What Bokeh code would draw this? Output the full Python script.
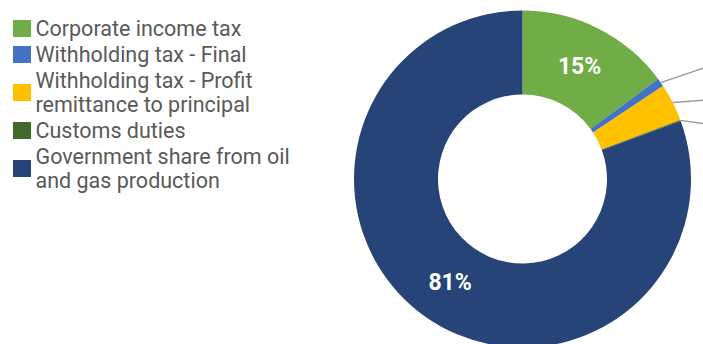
import math
from bokeh.plotting import figure
from bokeh.models import Range1d, ColumnDataSource
from bokeh.core.properties import value
from bokeh.embed import file_html
from bokeh.resources import INLINE

# ---- data ----
categories = [
    "Corporate income tax",
    "Withholding tax - Final",
    "Withholding tax - Profit\nremittance to principal",
    "Customs duties",
    "Government share from oil\nand gas production",
]
shares = [14.9, 0.8, 3.6, 0.1, 80.6]
colors = ["#70AD47", "#4472C4", "#FFC000", "#43682B", "#264478"]

# ---- geometry (page pixels) ----
W, H = 703, 344
def Y(img_y):
    return H - img_y

cx, cy = 522, Y(178.5)
r_out, r_in = 168.5, 84.5

p = figure(width=W, height=H, output_backend="svg", toolbar_location=None,
           x_range=Range1d(0, W), y_range=Range1d(0, H),
           min_border=0)
p.axis.visible = False
p.grid.visible = False
p.outline_line_color = None
p.background_fill_color = "white"
p.border_fill_color = "white"

total = sum(shares)
starts, ends, mids = [], [], []
cum = 0.0
for s in shares:
    a0 = cum / total
    cum += s
    a1 = cum / total
    starts.append(math.pi / 2 - 2 * math.pi * a0)
    ends.append(math.pi / 2 - 2 * math.pi * a1)
    mids.append((a0 + a1) / 2 * 360.0)  # degrees clockwise from top

src = ColumnDataSource(dict(start=starts, end=ends, color=colors))
p.annular_wedge(x=cx, y=cy, inner_radius=r_in, outer_radius=r_out,
                start_angle="start", end_angle="end", direction="clock",
                fill_color="color", line_color=None, source=src)

# leader lines for small slices
for s, m in zip(shares, mids):
    if s < 5:
        a = math.radians(m)
        x0 = cx + r_out * math.sin(a)
        y0 = cy + r_out * math.cos(a)
        ml = math.radians(60 + 1.21 * (m - 56))
        x1 = cx + 1.3 * r_out * math.sin(ml)
        y1 = cy + 1.3 * r_out * math.cos(ml)
        p.line([x0, x1], [y0, y1], line_color="#9a9a9a", line_width=1.4)

# percentage labels for large slices
lx, ly, lt = [], [], []
rm = (r_in + r_out) / 2
for s, m in zip(shares, mids):
    if s >= 5:
        a = math.radians(m)
        lx.append(cx + rm * math.sin(a))
        ly.append(cy + rm * math.cos(a))
        lt.append(f"{round(s)}%")
p.text(x=lx, y=ly, text=lt, text_color="white", text_font=value("Roboto"),
       text_font_style="bold", text_font_size="23px",
       text_align="center", text_baseline="middle")

# legend (one text per line for exact spacing)
lh, gap = 24, 2
row_y, line_x, line_y, line_t = [], [], [], []
yc = 28
prev = None
for c in categories:
    parts = c.split("\n")
    n = len(parts)
    if prev is not None:
        yc += prev * lh / 2 + gap + n * lh / 2
    row_y.append(yc)
    for i, t in enumerate(parts):
        line_x.append(35)
        line_y.append(Y(yc + (i - (n - 1) / 2) * lh))
        line_t.append(t)
    prev = n
p.rect(x=[21.5] * len(categories), y=[Y(v) for v in row_y], width=18, height=17,
       fill_color=colors, line_color=None)
p.text(x=line_x, y=line_y, text=line_t,
       text_color="#595959", text_font=value("Roboto"), text_font_size="21.5px",
       text_align="left", text_baseline="middle")

open("out.html", "w").write(file_html(p, INLINE))
